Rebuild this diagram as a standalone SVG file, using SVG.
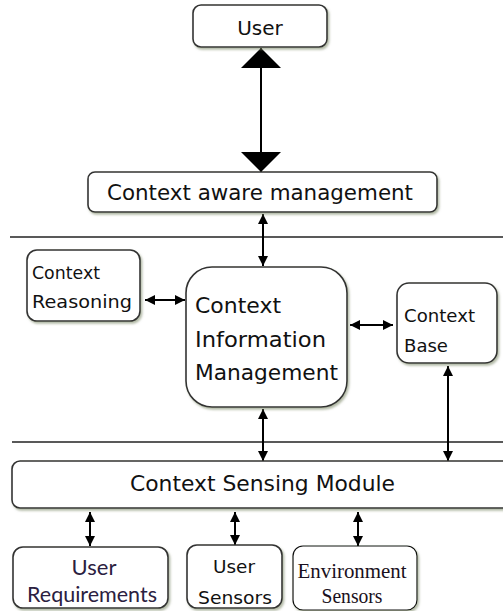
<svg xmlns="http://www.w3.org/2000/svg" width="503" height="611" viewBox="0 0 503 611">
<style>
.box{fill:#fff;stroke:#333;stroke-width:1.6;filter:url(#sh)}
.t{font-family:"DejaVu Sans",Verdana,sans-serif;fill:#111}
.c{stroke:#000;stroke-width:2;fill:none}
.hr{stroke:#222;stroke-width:1.5}
</style>
<defs>
<filter id="sh" x="-10%" y="-10%" width="130%" height="140%">
<feDropShadow dx="1.5" dy="2" stdDeviation="1" flood-color="#7f8a6a" flood-opacity="0.6"/>
</filter>
<marker id="ah" viewBox="0 0 10 10" refX="10" refY="5" markerWidth="10" markerHeight="10" markerUnits="userSpaceOnUse" orient="auto-start-reverse">
<path d="M0,0 L10,5 L0,10 z" fill="#000"/>
</marker>
<marker id="big" viewBox="0 0 20 40" refX="20" refY="20" markerWidth="20" markerHeight="40" markerUnits="userSpaceOnUse" orient="auto-start-reverse">
<path d="M0,0 L20,20 L0,40 z" fill="#000"/>
</marker>
</defs>
<rect width="503" height="611" fill="#fff"/>
<line class="hr" x1="10" y1="237" x2="503" y2="237"/>
<line class="hr" x1="12" y1="442" x2="503" y2="442"/>
<g id="connectors">
<line class="c" x1="261" y1="48" x2="261" y2="172" marker-start="url(#big)" marker-end="url(#big)"/>
<line class="c" x1="263" y1="214" x2="263" y2="266" marker-start="url(#ah)" marker-end="url(#ah)"/>
<line class="c" x1="145" y1="300" x2="185" y2="300" marker-start="url(#ah)" marker-end="url(#ah)"/>
<line class="c" x1="350" y1="325" x2="393" y2="325" marker-start="url(#ah)" marker-end="url(#ah)"/>
<line class="c" x1="448" y1="366" x2="448" y2="461" marker-start="url(#ah)" marker-end="url(#ah)"/>
<line class="c" x1="263" y1="409" x2="263" y2="461" marker-start="url(#ah)" marker-end="url(#ah)"/>
<line class="c" x1="90" y1="512" x2="90" y2="546" marker-start="url(#ah)" marker-end="url(#ah)"/>
<line class="c" x1="235" y1="512" x2="235" y2="545" marker-start="url(#ah)" marker-end="url(#ah)"/>
<line class="c" x1="358" y1="512" x2="358" y2="546" marker-start="url(#ah)" marker-end="url(#ah)"/>
</g>
<g id="user">
<rect class="box" x="193" y="5" width="134" height="42" rx="8"/>
<text class="t" x="260" y="35" font-size="20" text-anchor="middle">User</text>
</g>
<g id="context-aware-management">
<rect class="box" x="88" y="172" width="349" height="40" rx="7"/>
<text class="t" x="107" y="200" font-size="21" textLength="306" lengthAdjust="spacingAndGlyphs">Context aware management</text>
</g>
<g id="context-reasoning">
<rect class="box" x="27" y="250" width="113" height="71" rx="10"/>
<text class="t" x="32" y="279" font-size="18" textLength="68" lengthAdjust="spacingAndGlyphs">Context</text>
<text class="t" x="32" y="308" font-size="18" textLength="100" lengthAdjust="spacingAndGlyphs">Reasoning</text>
</g>
<g id="context-information-management">
<rect class="box" x="186" y="267" width="161" height="140" rx="26"/>
<text class="t" x="195" y="313" font-size="21" textLength="86" lengthAdjust="spacingAndGlyphs">Context</text>
<text class="t" x="195" y="347" font-size="21" textLength="131" lengthAdjust="spacingAndGlyphs">Information</text>
<text class="t" x="195" y="380" font-size="21" textLength="143" lengthAdjust="spacingAndGlyphs">Management</text>
</g>
<g id="context-base">
<rect class="box" x="397" y="283" width="100" height="80" rx="12"/>
<text class="t" x="404" y="322" font-size="18" textLength="71" lengthAdjust="spacingAndGlyphs">Context</text>
<text class="t" x="404" y="352" font-size="18" textLength="44" lengthAdjust="spacingAndGlyphs">Base</text>
</g>
<g id="context-sensing-module">
<rect class="box" x="12" y="461" width="510" height="47" rx="8"/>
<text class="t" x="130" y="491" font-size="21" textLength="265" lengthAdjust="spacingAndGlyphs">Context Sensing Module</text>
</g>
<g id="user-requirements">
<rect class="box" x="13" y="547" width="155" height="61" rx="10"/>
<text x="94" y="575" font-family="Lato,'Liberation Sans',sans-serif" font-size="22" fill="#2b2040" text-anchor="middle">User</text>
<text x="92" y="602" font-family="Lato,'Liberation Sans',sans-serif" font-size="22" fill="#2b2040" text-anchor="middle" textLength="130" lengthAdjust="spacingAndGlyphs">Requirements</text>
</g>
<g id="user-sensors">
<rect class="box" x="187" y="545" width="95" height="63" rx="10"/>
<text class="t" x="234" y="573" font-size="17" text-anchor="middle" textLength="42" lengthAdjust="spacingAndGlyphs">User</text>
<text class="t" x="235" y="604" font-size="17" text-anchor="middle" textLength="74" lengthAdjust="spacingAndGlyphs">Sensors</text>
</g>
<g id="environment-sensors">
<rect class="box" x="293" y="546" width="124" height="64" rx="10" style="stroke-width:1.2;stroke:#111"/>
<text x="352" y="578" font-family="'Liberation Serif','Times New Roman',serif" font-size="21" fill="#1a1020" text-anchor="middle" textLength="109" lengthAdjust="spacingAndGlyphs">Environment</text>
<text x="352" y="603" font-family="'Liberation Serif','Times New Roman',serif" font-size="21" fill="#1a1020" text-anchor="middle" textLength="61" lengthAdjust="spacingAndGlyphs">Sensors</text>
</g>
</svg>
